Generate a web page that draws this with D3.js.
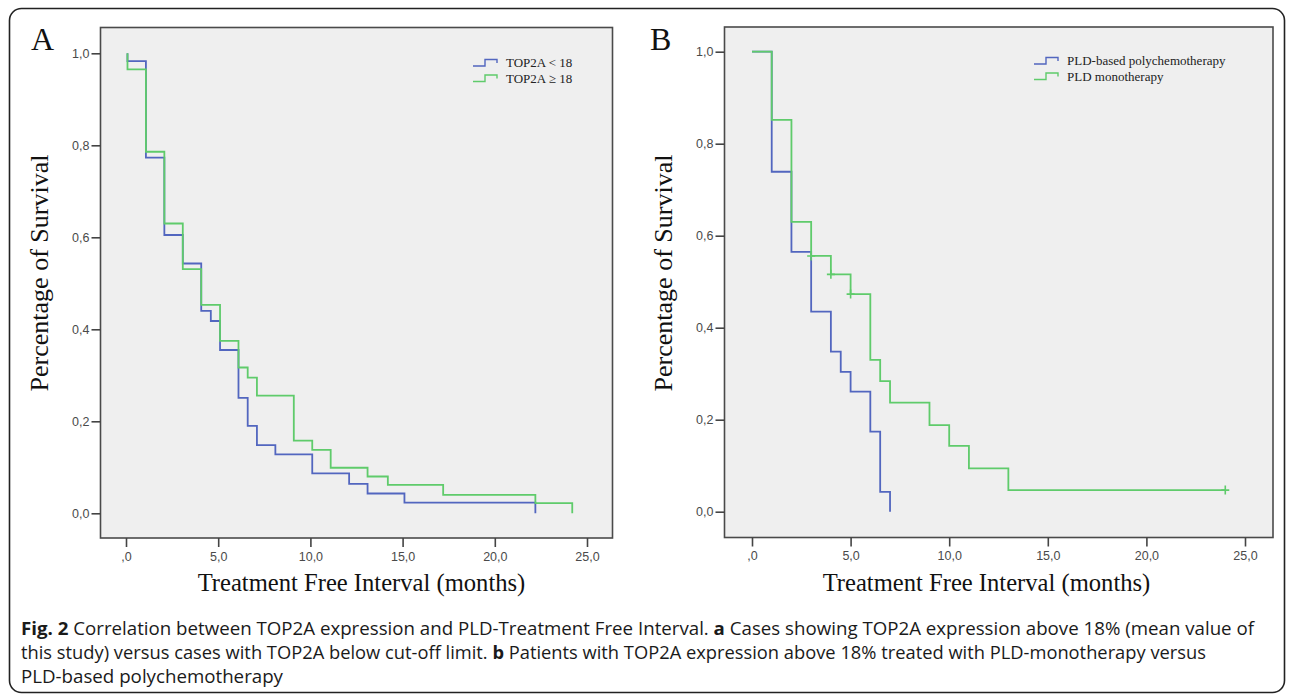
<!DOCTYPE html>
<html>
<head>
<meta charset="utf-8">
<script src="https://cdn.jsdelivr.net/npm/d3@7"></script>
<style>
  html, body { margin: 0; padding: 0; background: #ffffff; }
  svg { display: block; }
</style>
</head>
<body>
<svg id="chart" width="1292" height="695"></svg>
<script>
// ---------- DATA ----------
const xTicks = [0, 5, 10, 15, 20, 25];
const xTickLabels = [",0", "5,0", "10,0", "15,0", "20,0", "25,0"];
const yTicks = [0, 0.2, 0.4, 0.6, 0.8, 1.0];
const yTickLabels = ["0,0", "0,2", "0,4", "0,6", "0,8", "1,0"];

// Panel A: TOP2A < 18 (blue)
const aLowTimes = [0.08, 0.08, 1.08, 2.08, 3.08, 4.08, 4.6, 5.1, 6.1, 6.6, 7.1, 8.1, 10.1, 12.1, 13.1, 15.1, 22.2, 22.2];
const aLowSurv  = [1.0, 0.983, 0.773, 0.605, 0.543, 0.440, 0.418, 0.355, 0.251, 0.190, 0.148, 0.128, 0.087, 0.064, 0.043, 0.023, 0.023, 0.0];
// Panel A: TOP2A >= 18 (green)
const aHighTimes = [0.08, 0.08, 1.08, 2.08, 3.08, 4.08, 5.1, 6.1, 6.6, 7.1, 9.1, 10.1, 11.1, 13.1, 14.2, 17.2, 22.2, 24.2, 24.2];
const aHighSurv  = [1.0, 0.965, 0.786, 0.630, 0.531, 0.453, 0.375, 0.317, 0.295, 0.256, 0.158, 0.138, 0.099, 0.080, 0.062, 0.040, 0.022, 0.022, 0.0];

// Panel B: PLD-based polychemotherapy (blue)
const bPolyTimes = [0, 1, 2, 3, 4, 4.5, 5, 6, 6.5, 7, 7];
const bPolySurv  = [1.0, 0.739, 0.565, 0.435, 0.348, 0.304, 0.261, 0.174, 0.043, 0.043, 0.0];
// Panel B: PLD monotherapy (green)
const bMonoTimes = [0, 1, 2, 3, 4, 5, 6, 6.5, 7, 9, 10, 11, 13, 24];
const bMonoSurv  = [1.0, 0.852, 0.630, 0.556, 0.516, 0.473, 0.330, 0.284, 0.237, 0.188, 0.143, 0.094, 0.047, 0.047];
const bMonoCensorTimes = [3, 4, 5, 24];
const bMonoCensorSurv  = [0.556, 0.516, 0.473, 0.047];

const legendA = ["TOP2A < 18", "TOP2A \u2265 18"];
const legendB = ["PLD-based polychemotherapy", "PLD monotherapy"];

const captionLines = [
  [["Fig. 2", true], [" Correlation between TOP2A expression and PLD-Treatment Free Interval. ", false], ["a", true], [" Cases showing TOP2A expression above 18% (mean value of", false]],
  [["this study) versus cases with TOP2A below cut-off limit. ", false], ["b", true], [" Patients with TOP2A expression above 18% treated with PLD-monotherapy versus", false]],
  [["PLD-based polychemotherapy", false]]
];

// ---------- STYLE ----------
const BLUE = "#5266bf";
const GREEN = "#5fcb6b";
const serif = "'Liberation Serif', 'Times New Roman', serif";
const sans = "'Liberation Sans', Arial, sans-serif";

const svg = d3.select("#chart");

// outer rounded border
svg.append("rect")
  .attr("x", 9.5).attr("y", 8.5)
  .attr("width", 1275).attr("height", 684)
  .attr("rx", 12).attr("ry", 12)
  .attr("fill", "none").attr("stroke", "#222").attr("stroke-width", 1.6);

function zip(t, s) { return t.map((d, i) => [d, s[i]]); }

function drawPanel(cfg) {
  const g = svg.append("g");
  const x = d3.scaleLinear().domain([0, 25]).range([cfg.x0, cfg.x25]);
  const y = d3.scaleLinear().domain([0, 1]).range([cfg.y0, cfg.y1]);

  // plot frame
  g.append("rect")
    .attr("x", cfg.fl).attr("y", cfg.ft)
    .attr("width", cfg.fr - cfg.fl).attr("height", cfg.fb - cfg.ft)
    .attr("fill", "#efefef").attr("stroke", "#4a4a4a").attr("stroke-width", 1.6);

  // y axis
  const yAxis = d3.axisLeft(y).tickValues(yTicks)
    .tickFormat((d, i) => yTickLabels[i]).tickSize(9).tickSizeOuter(0).tickPadding(2);
  const ya = g.append("g").attr("transform", `translate(${cfg.fl},0)`).call(yAxis);
  ya.select(".domain").remove();
  ya.selectAll(".tick line").attr("stroke", "#444").attr("stroke-width", 1.6);
  ya.selectAll(".tick text").attr("font-family", sans).attr("font-size", 12.5).attr("fill", "#4a4a4a");

  // x axis
  const xAxis = d3.axisBottom(x).tickValues(xTicks)
    .tickFormat((d, i) => xTickLabels[i]).tickSize(9).tickSizeOuter(0).tickPadding(5);
  const xa = g.append("g").attr("transform", `translate(0,${cfg.fb})`).call(xAxis);
  xa.select(".domain").remove();
  xa.selectAll(".tick line").attr("stroke", "#444").attr("stroke-width", 1.6);
  xa.selectAll(".tick text").attr("font-family", sans).attr("font-size", 12.5).attr("fill", "#4a4a4a");

  // curves
  const line = d3.line().x(d => x(d[0])).y(d => y(d[1])).curve(d3.curveStepAfter);
  cfg.series.forEach(s => {
    g.append("path").datum(zip(s.t, s.s))
      .attr("d", line).attr("fill", "none")
      .attr("stroke", s.color).attr("stroke-width", 1.8);
    if (s.ct) {
      zip(s.ct, s.cs).forEach(p => {
        g.append("path")
          .attr("d", `M${x(p[0])},${y(p[1]) - 4.5}V${y(p[1]) + 4.5}M${x(p[0]) - 4},${y(p[1])}H${x(p[0]) + 4}`)
          .attr("stroke", s.color).attr("stroke-width", 1.6).attr("fill", "none");
      });
    }
  });

  // legend
  cfg.legend.forEach((lab, i) => {
    const ly = cfg.legY + i * 15.5;
    g.append("path")
      .attr("d", `M${cfg.legX},${ly + 3}H${cfg.legX + 12}V${ly - 3.5}H${cfg.legX + 24}V${ly}`)
      .attr("fill", "none").attr("stroke", cfg.series[i].color).attr("stroke-width", 1.4);
    g.append("text").attr("x", cfg.legX + 33).attr("y", ly + 4)
      .attr("font-family", serif).attr("font-size", 13).attr("fill", "#222")
      .text(lab);
  });

  // panel letter
  g.append("text").attr("x", cfg.letterX).attr("y", 50)
    .attr("font-family", serif).attr("font-size", 32).attr("fill", "#111")
    .text(cfg.letter);

  // axis titles
  g.append("text")
    .attr("x", (cfg.x0 + cfg.x25) / 2 + cfg.xTitleDx).attr("y", 591)
    .attr("text-anchor", "middle")
    .attr("font-family", serif).attr("font-size", 24.6).attr("fill", "#111")
    .text("Treatment Free Interval (months)");
  g.append("text")
    .attr("transform", `translate(${cfg.yTitleX},273) rotate(-90)`)
    .attr("text-anchor", "middle")
    .attr("font-family", serif).attr("font-size", 26).attr("fill", "#111")
    .text("Percentage of Survival");
}

drawPanel({
  letter: "A", letterX: 31,
  x0: 126, x25: 587, y0: 513.3, y1: 53.3,
  fl: 100.5, fr: 612.5, ft: 27.5, fb: 538,
  legX: 473, legY: 63, legend: legendA,
  yTitleX: 48, xTitleDx: 5,
  series: [
    { t: aLowTimes, s: aLowSurv, color: BLUE },
    { t: aHighTimes, s: aHighSurv, color: GREEN }
  ]
});

drawPanel({
  letter: "B", letterX: 650,
  x0: 752, x25: 1245, y0: 511.7, y1: 51.7,
  fl: 724.5, fr: 1273, ft: 27, fb: 537.5,
  legX: 1034, legY: 61, legend: legendB,
  yTitleX: 672, xTitleDx: -12,
  series: [
    { t: bPolyTimes, s: bPolySurv, color: BLUE },
    { t: bMonoTimes, s: bMonoSurv, color: GREEN, ct: bMonoCensorTimes, cs: bMonoCensorSurv }
  ]
});

// caption
const capEnds = [1254, 1206, 283];
captionLines.forEach((parts, i) => {
  const t = svg.append("text")
    .attr("x", 21).attr("y", 634.5 + i * 24)
    .attr("font-family", "'Open Sans', 'Noto Sans', sans-serif")
    .attr("font-size", 18).attr("fill", "#1a1a1a")
    .attr("textLength", capEnds[i] - 21).attr("lengthAdjust", "spacingAndGlyphs");
  parts.forEach(p => {
    t.append("tspan").attr("font-weight", p[1] ? "bold" : "normal").text(p[0]);
  });
});
</script>
</body>
</html>
